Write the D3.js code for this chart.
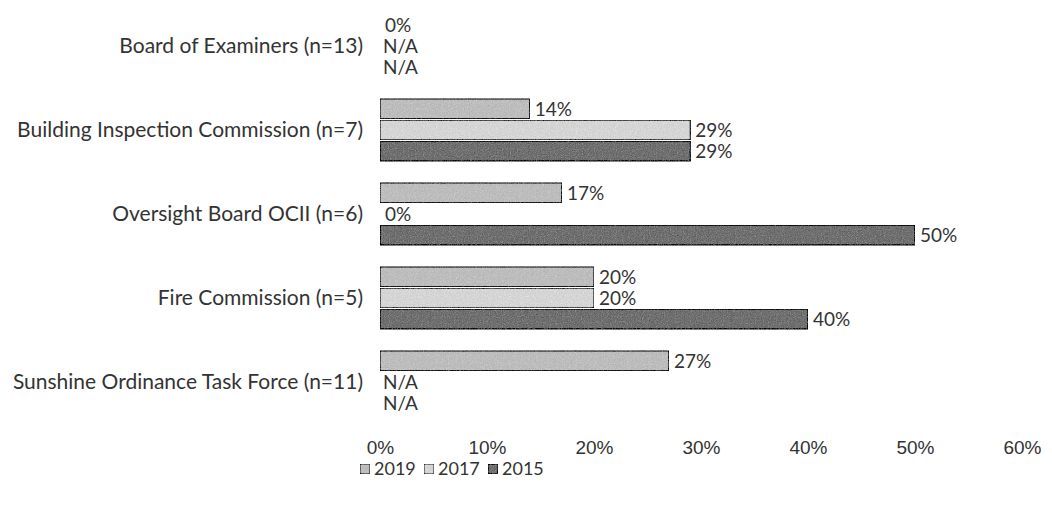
<!DOCTYPE html>
<html>
<head>
<meta charset="utf-8">
<script src="https://cdn.jsdelivr.net/npm/d3@7"></script>
<style>
  body { margin: 0; background: #fff; }
  svg { font-family: Lato, "Noto Sans", sans-serif; }
  .tick text { font-size: 19px; fill: #333; }
</style>
</head>
<body>
<svg id="chart" width="1052" height="510"></svg>
<script>
const categories = [
  "Board of Examiners (n=13)",
  "Building Inspection Commission (n=7)",
  "Oversight Board OCII (n=6)",
  "Fire Commission (n=5)",
  "Sunshine Ordinance Task Force (n=11)"
];
const seriesNames = ["2019", "2017", "2015"];
// null = N/A
const values2019 = [0, 14, 17, 20, 27];
const values2017 = [null, 29, 0, 20, null];
const values2015 = [null, 29, 50, 40, null];
const xTicks = [0, 10, 20, 30, 40, 50, 60];

const seriesValues = [values2019, values2017, values2015];
const fills = ["#cdcdcd", "#e3e3e3", "#8f8f8f"];

const marginLeft = 380;

const svg = d3.select("#chart");
svg.selectAll("*").remove();

// grainy scan look
const defs = svg.append("defs");
const f = defs.append("filter").attr("id", "grain").attr("x", 0).attr("y", 0).attr("width", 1).attr("height", 1);
f.append("feTurbulence").attr("type", "fractalNoise").attr("baseFrequency", 0.85).attr("numOctaves", 2).attr("seed", 3).attr("result", "n");
f.append("feColorMatrix").attr("in", "n").attr("type", "saturate").attr("values", 0).attr("result", "g");
f.append("feComposite").attr("in", "g").attr("in2", "SourceGraphic").attr("operator", "arithmetic")
  .attr("k1", 0).attr("k2", 0.5).attr("k3", 1).attr("k4", -0.25).attr("result", "m");
f.append("feComposite").attr("in", "m").attr("in2", "SourceGraphic").attr("operator", "in");

const x = d3.scaleLinear().domain([0, 60]).range([marginLeft, marginLeft + 6 * 107]);

const y = d3.scaleBand().domain(categories).range([4, 424]).paddingInner(0.26).paddingOuter(0.13);
const ySub = d3.scaleBand().domain(seriesNames).range([0, y.bandwidth()]).paddingInner(0.06);

// category labels
svg.append("g")
  .selectAll("text")
  .data(categories)
  .join("text")
  .attr("x", marginLeft - 17)
  .attr("y", (d) => y(d) + y.bandwidth() / 2)
  .attr("dy", "0.35em")
  .attr("text-anchor", "end")
  .attr("font-size", 21)
  .attr("fill", "#333")
  .text((d) => d);

// bars
seriesNames.forEach((s, si) => {
  const rows = categories.map((c, i) => ({ cat: c, v: seriesValues[si][i] }));
  const g = svg.append("g");
  g.selectAll("rect")
    .data(rows.filter((d) => d.v !== null && d.v > 0))
    .join("rect")
    .attr("x", x(0))
    .attr("y", (d) => y(d.cat) + ySub(s))
    .attr("width", (d) => x(d.v) - x(0))
    .attr("height", ySub.bandwidth())
    .attr("fill", fills[si])
    .attr("stroke", "#444")
    .attr("stroke-width", 1.2)
    .attr("filter", "url(#grain)");
  g.selectAll("text")
    .data(rows)
    .join("text")
    .attr("x", (d) => (d.v === null ? x(0) + 3 : x(d.v) + 5))
    .attr("y", (d) => y(d.cat) + ySub(s) + ySub.bandwidth() / 2)
    .attr("dy", "0.35em")
    .attr("font-size", 19)
    .attr("fill", "#333")
    .text((d) => (d.v === null ? "N/A" : d.v + "%"));
});

// x axis
const xAxis = d3.axisBottom(x).tickValues(xTicks).tickFormat((d) => d + "%").tickSize(0).tickPadding(0);
svg.append("g")
  .attr("transform", "translate(0, 440)")
  .call(xAxis)
  .call((g) => g.select(".domain").remove());

// legend
const legend = svg.append("g").attr("transform", "translate(360, 469)");
const legendX = [0, 64, 128];
seriesNames.forEach((s, i) => {
  const item = legend.append("g").attr("transform", `translate(${legendX[i]}, 0)`);
  item.append("rect")
    .attr("x", 0).attr("y", -5).attr("width", 10).attr("height", 10)
    .attr("fill", fills[i]).attr("stroke", "#444").attr("stroke-width", 1)
    .attr("filter", "url(#grain)");
  item.append("text")
    .attr("x", 14).attr("y", 0).attr("dy", "0.35em")
    .attr("font-size", 18).attr("fill", "#333")
    .text(s);
});
</script>
</body>
</html>
